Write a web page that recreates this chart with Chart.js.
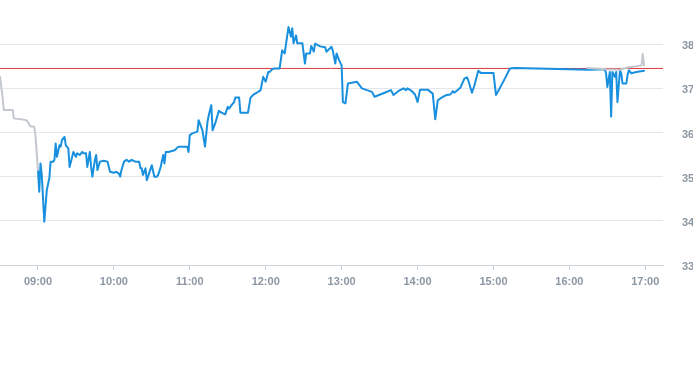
<!DOCTYPE html>
<html>
<head>
<meta charset="utf-8">
<script src="https://cdn.jsdelivr.net/npm/chart.js@4/dist/chart.umd.min.js"></script>
<style>
html,body{margin:0;padding:0;background:#fff;overflow:hidden;}
#wrap{width:710px;height:365px;}
</style>
</head>
<body>
<div id="wrap"><canvas id="c" width="710" height="365"></canvas></div>
<script>
// Pre-market (grey)
const preTimes = ["08:30","08:32","08:33","08:40","08:41","08:51","08:54","08:57","08:58","09:00"];
const preValues = [37.26,36.81,36.51,36.51,36.32,36.28,36.14,36.13,35.94,35.15];

// Regular session (blue)
const mainTimes = ["09:00","09:01","09:02","09:03","09:05","09:07","09:09","09:10","09:12","09:13","09:14","09:15","09:17","09:18","09:19","09:21","09:22","09:24","09:25","09:28","09:30","09:31","09:33","09:35","09:36","09:38","09:39","09:41","09:42","09:43","09:45","09:46","09:47","09:49","09:52","09:55","09:56","09:57","10:00","10:02","10:04","10:05","10:06","10:08","10:10","10:12","10:14","10:17","10:20","10:21","10:22","10:23","10:25","10:26","10:27","10:30","10:32","10:34","10:35","10:37","10:39","10:40","10:41","10:43","10:48","10:51","10:58","10:59","11:00","11:02","11:06","11:07","11:10","11:12","11:14","11:15","11:17","11:18","11:20","11:23","11:25","11:28","11:30","11:31","11:33","11:35","11:36","11:39","11:40","11:46","11:48","11:50","11:54","11:56","11:58","12:00","12:02","12:03","12:05","12:07","12:11","12:13","12:15","12:18","12:20","12:21","12:22","12:24","12:25","12:29","12:31","12:32","12:35","12:36","12:38","12:39","12:43","12:47","12:48","12:52","12:53","12:55","12:56","12:58","13:00","13:01","13:03","13:05","13:12","13:16","13:20","13:24","13:26","13:34","13:39","13:41","13:45","13:49","13:51","13:52","13:55","13:58","14:00","14:02","14:08","14:12","14:14","14:16","14:19","14:23","14:26","14:28","14:29","14:32","14:34","14:37","14:39","14:40","14:43","14:45","14:48","14:50","15:00","15:02","15:05","15:09","15:13","15:17","16:16","16:28","16:29","16:30","16:32","16:33","16:34","16:36","16:37","16:38","16:40","16:41","16:42","16:45","16:46","16:47","16:49","16:53","16:59"];
const mainValues = [35.15,34.66,35.30,35.04,33.98,34.70,34.97,35.34,35.34,35.38,35.75,35.45,35.71,35.68,35.83,35.90,35.71,35.64,35.22,35.56,35.45,35.53,35.49,35.56,35.53,35.53,35.22,35.56,35.22,35.00,35.38,35.49,35.15,35.34,35.36,35.34,35.22,35.11,35.09,35.11,35.07,35.00,35.15,35.34,35.38,35.34,35.38,35.34,35.34,35.19,35.19,35.04,35.19,34.92,35.00,35.26,35.00,35.00,35.04,35.22,35.49,35.30,35.56,35.56,35.60,35.68,35.68,35.56,35.94,35.98,36.02,36.28,36.05,35.68,36.24,36.39,36.62,36.05,36.20,36.49,36.45,36.41,36.58,36.54,36.62,36.69,36.79,36.79,36.45,36.45,36.79,36.85,36.92,36.96,37.26,37.15,37.37,37.37,37.43,37.45,37.45,37.86,37.79,38.39,38.17,38.36,38.02,38.20,38.02,38.02,37.56,37.79,37.79,37.96,37.83,38.01,37.95,37.93,37.83,37.94,37.86,37.56,37.79,37.64,37.52,36.69,36.66,37.11,37.15,37.00,36.96,36.92,36.81,36.90,36.96,36.85,36.94,37.00,36.96,37.00,36.95,36.86,36.69,36.97,36.97,36.88,36.30,36.73,36.79,36.85,36.86,36.94,36.90,36.97,37.02,37.22,37.25,37.19,36.90,37.07,37.40,37.35,37.35,36.85,37.00,37.22,37.45,37.46,37.42,37.43,37.34,37.03,37.37,36.36,37.37,37.26,37.37,36.69,37.41,37.34,37.11,37.11,37.30,37.41,37.34,37.37,37.40];

// After-hours (grey)
const postTimes = ["16:14","16:29","16:40","16:46","16:53","16:57","16:58","16:59"];
const postValues = [37.46,37.43,37.42,37.47,37.50,37.52,37.78,37.52];

// Reference level (red)
const refLevel = 37.45;

const xMin = "08:30", xMax = "17:14";
const yTickValues = [33,34,35,36,37,38];
const xTickLabels = ["09:00","10:00","11:00","12:00","13:00","14:00","15:00","16:00","17:00"];

const toMin = s => { const [h,m] = s.split(":").map(Number); return h*60+m; };
const fmt = v => String(Math.floor(v/60)).padStart(2,"0")+":"+String(Math.round(v%60)).padStart(2,"0");
const pts = (t,v) => t.map((s,i)=>({x:toMin(s),y:v[i]}));

const font = {family:"'Liberation Sans', Arial, sans-serif", size:11, weight:"bold"};
const tickColor = "#8c97a3";
const lineBase = {borderWidth:2, pointRadius:0, tension:0, fill:false, borderJoinStyle:"round", borderCapStyle:"round"};

new Chart(document.getElementById("c"), {
  type: "line",
  data: {
    datasets: [
      Object.assign({data: pts(postTimes, postValues), borderColor:"#c3c8ce"}, lineBase),
      Object.assign({data: pts(preTimes, preValues), borderColor:"#c3c8ce"}, lineBase),
      Object.assign({data: pts(mainTimes, mainValues), borderColor:"#1890df"}, lineBase),
      {data: [{x:toMin(xMin),y:refLevel},{x:toMin(xMax),y:refLevel}], borderColor:"#e0393a", borderWidth:1, pointRadius:0, tension:0, fill:false}
    ]
  },
  options: {
    responsive:false,
    animation:false,
    events:[],
    layout:{padding:0},
    plugins:{legend:{display:false}, tooltip:{enabled:false}},
    scales:{
      x:{
        type:"linear",
        min: toMin(xMin), max: toMin(xMax),
        afterBuildTicks: s => { s.ticks = xTickLabels.map(l=>({value:toMin(l)})); },
        afterFit: s => { s.height = 100; s.paddingLeft = 0; s.paddingRight = 0; },
        grid:{drawOnChartArea:false, drawTicks:true, tickLength:5, color:"#ccd3db"},
        border:{color:"#ccd3db"},
        ticks:{autoSkip:false, maxRotation:0, padding:5, color:tickColor, font:font, callback: v => fmt(v)}
      },
      y:{
        position:"right",
        min:33, max:39,
        afterBuildTicks: s => { s.ticks = yTickValues.map(v=>({value:v})); },
        afterFit: s => { s.width = 47; s.paddingTop = 0; s.paddingBottom = 0; },
        grid:{color:"#e3e6ea", drawTicks:false},
        border:{display:false},
        ticks:{padding:19, labelOffset:2, color:tickColor, font:font}
      }
    }
  }
});
</script>
</body>
</html>
